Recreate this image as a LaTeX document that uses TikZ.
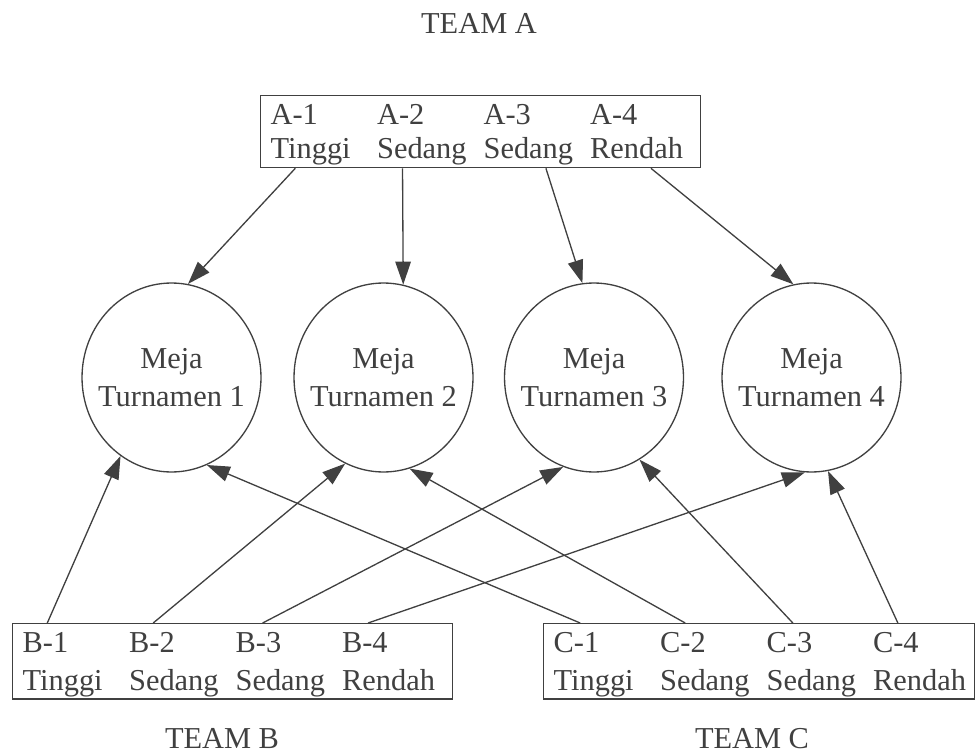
\documentclass[tikz,border=0pt]{standalone}
\usepackage{fontspec}
\setmainfont{Liberation Serif}
\usetikzlibrary{
arrows.meta,
shapes.geometric,
calc
}
\definecolor{MejaInk}{HTML}{404040}
% two rows of a team: player codes and their level
\newcommand{\teamcells}[1]{%
\rule{0pt}{0.52cm}\hspace*{0.2cm}\makebox[2.13cm][l]{#1-1}\makebox[2.13cm][l]{#1-2}\makebox[2.13cm][l]{#1-3}#1-4\\
\hspace*{0.2cm}\makebox[2.13cm][l]{Tinggi}\makebox[2.13cm][l]{Sedang}\makebox[2.13cm][l]{Sedang}Rendah}
\tikzset{
teambox/.style={draw=MejaInk, line width=0.75pt, text=MejaInk, align=left,
  inner xsep=0pt, inner ysep=0pt, text width=8.8cm, anchor=north west},
teamlabel/.style={text=MejaInk, anchor=base, inner sep=0pt,
  font=\fontsize{17.3pt}{19.6pt}\selectfont},
mejacircle/.style={ellipse, draw=MejaInk, line width=0.75pt, inner sep=0pt,
  minimum width=3.58cm, minimum height=3.78cm},
mejatext/.style={align=center, text=MejaInk, inner sep=0pt,
  font=\fontsize{17.3pt}{21.6pt}\selectfont},
mejaarrow/.style={-{Triangle[length=4.6mm,width=3.1mm]}, line width=0.75pt, draw=MejaInk}
}
\begin{document}
\begin{tikzpicture}[x=0.02cm, y=-0.02cm]
\useasboundingbox (0,0) rectangle (976,753);

% teams
\node[teamlabel] (teamA) at (479,34) {TEAM A};
\node[teambox, minimum height=1.44cm, font=\fontsize{17.3pt}{19.6pt}\selectfont]
  (boxA) at (260,95) {\teamcells{A}};
\node[teambox, minimum height=1.51cm, font=\fontsize{17.3pt}{21.6pt}\selectfont]
  (boxB) at (12,623) {\teamcells{B}};
\node[teambox, minimum height=1.51cm, text width=8.62cm, font=\fontsize{17.3pt}{21.6pt}\selectfont]
  (boxC) at (543,623) {\teamcells{C}};
\node[teamlabel] (teamB) at (222,748) {TEAM B};
\node[teamlabel] (teamC) at (752,748) {TEAM C};

% tournament tables
\foreach \i/\x in {1/171.5, 2/383.5, 3/594, 4/811.5} {
  \node[mejacircle] (m\i) at (\x,377.5) {};
  \node[mejatext] (t\i) at (m\i) {Meja\\Turnamen \i};
}

% players go to their table
\foreach \i/\f/\a in {1/0.08/80.6, 2/0.323/78.8, 3/0.648/97.2, 4/0.886/101.7}
\draw[mejaarrow] ($(boxA.south west)!\f!(boxA.south east)$) -- (m\i.\a);
\foreach \i/\f/\a in {1/0.08/237.1, 2/0.32/246.9, 3/0.568/251.9, 4/0.807/266}
\draw[mejaarrow] ($(boxB.north west)!\f!(boxB.north east)$) -- (m\i.\a);
\foreach \i/\f/\a in {1/0.086/292.3, 2/0.329/286.5, 3/0.578/299.6, 4/0.821/280.5}
\draw[mejaarrow] ($(boxC.north west)!\f!(boxC.north east)$) -- (m\i.\a);
\end{tikzpicture}
\end{document}
